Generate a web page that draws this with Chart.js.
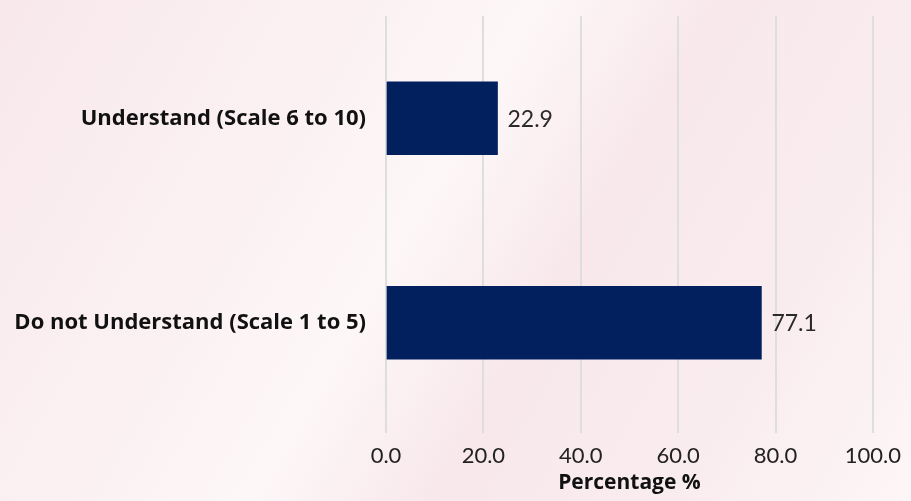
<!DOCTYPE html>
<html>
<head>
<meta charset="utf-8">
<script src="https://cdn.jsdelivr.net/npm/chart.js@4/dist/chart.umd.min.js"></script>
<style>
  html, body { margin: 0; padding: 0; }
  body {
    width: 911px;
    height: 501px;
    background: linear-gradient(120deg, #f8e8ec 0%, #fbf1f3 30%, #fdf7f8 45%, #f8e8ec 60%, #f9ecef 80%, #fdf6f7 100%);
  }
  #wrap { width: 911px; height: 501px; }
</style>
</head>
<body>
<div id="wrap"><canvas id="pemahamanChart"></canvas></div>
<script>
// Kategori dan nilai persentase
const kategori = ["Understand (Scale 6 to 10)", "Do not Understand (Scale 1 to 5)"];
const persentase = [22.9, 77.1];
const tickNilai = [0, 20, 40, 60, 80, 100];

// Plugin kecil untuk menulis nilai di ujung batang
const labelNilai = {
  id: "labelNilai",
  afterDatasetsDraw(chart) {
    const ctx = chart.ctx;
    const meta = chart.getDatasetMeta(0);
    ctx.save();
    ctx.font = "23px Lato";
    ctx.fillStyle = "#2a2a2a";
    ctx.textAlign = "left";
    ctx.textBaseline = "middle";
    meta.data.forEach((bar, i) => {
      ctx.fillText(persentase[i].toFixed(1), bar.x + 10, bar.y + 1);
    });
    ctx.restore();
  },
};

const ctx = document.getElementById("pemahamanChart").getContext("2d");
new Chart(ctx, {
  type: "bar",
  data: {
    labels: kategori,
    datasets: [
      {
        label: "Percentage %",
        data: persentase,
        backgroundColor: "#021f5e",
        borderWidth: 0,
        barThickness: 73,
      },
    ],
  },
  options: {
    indexAxis: "y",
    responsive: true,
    maintainAspectRatio: false,
    animation: false,
    layout: { padding: { top: 16, right: 36, bottom: 0, left: 0 } },
    plugins: {
      legend: { display: false },
      tooltip: { enabled: false },
    },
    scales: {
      x: {
        min: 0,
        max: 100,
        afterBuildTicks: (scale) => {
          scale.ticks = tickNilai.map((v) => ({ value: v }));
        },
        afterFit: (scale) => {
          scale.height = 76;
        },
        grid: { color: "#dedede", lineWidth: 2, tickLength: 8 },
        border: { display: false },
        ticks: {
          color: "#222222",
          font: { family: "Lato", size: 22 },
          padding: 10,
          callback: (v) => Number(v).toFixed(1),
        },
        title: {
          display: true,
          text: "Percentage %",
          color: "#111111",
          font: { family: "Open Sans", size: 21, weight: "bold" },
          padding: { top: 0, bottom: 5 },
        },
      },
      y: {
        afterFit: (scale) => {
          scale.width = 386;
          scale.paddingTop = 0;
          scale.paddingBottom = 0;
        },
        grid: { display: false, drawTicks: false },
        border: { display: false },
        ticks: {
          color: "#111111",
          font: { family: "Open Sans", size: 22, weight: "bold" },
          padding: 20,
        },
      },
    },
  },
  plugins: [labelNilai],
});
</script>
</body>
</html>
